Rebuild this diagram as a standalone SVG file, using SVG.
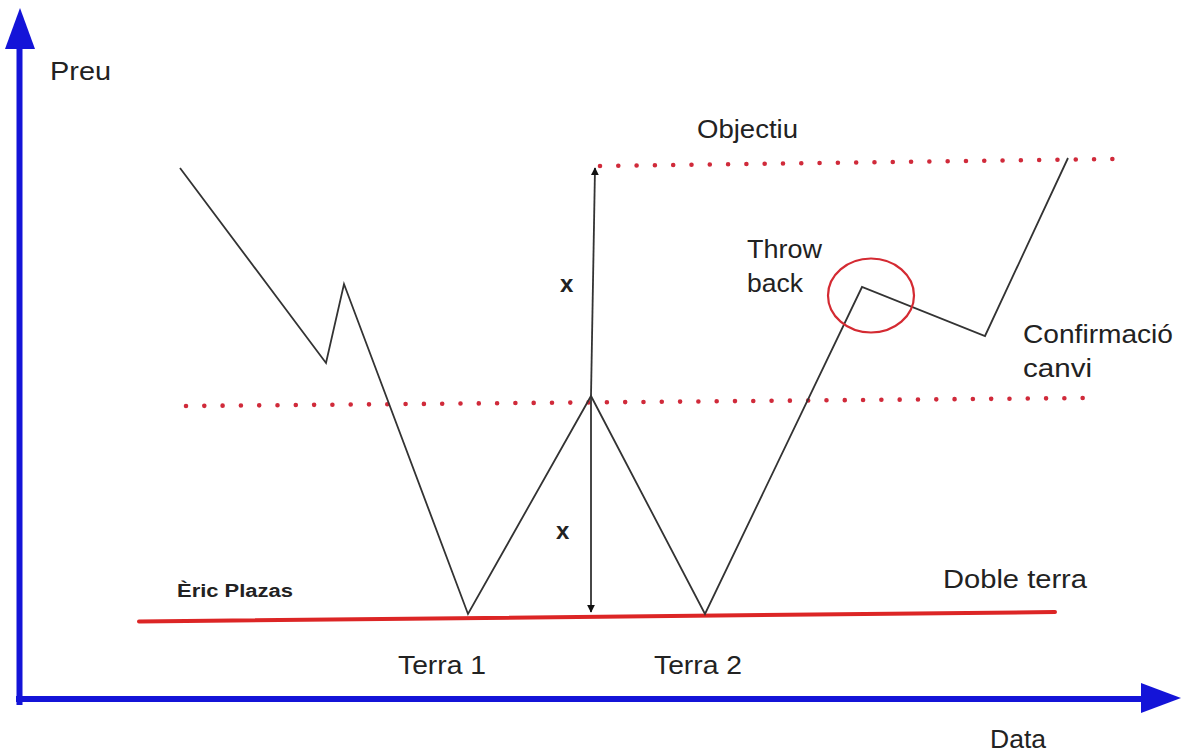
<svg xmlns="http://www.w3.org/2000/svg" width="1182" height="753" viewBox="0 0 1182 753">
<style>
.t{font-family:"Liberation Sans",Arial,sans-serif;font-size:25px;fill:#222}
.b{font-family:"Liberation Sans",Arial,sans-serif;font-weight:bold;fill:#222}
.axis{stroke:#1414d8;stroke-width:6;fill:none}
.ah{fill:#1414d8}
.price{stroke:#333;stroke-width:1.8;fill:none;stroke-linejoin:miter}
.dot{stroke:#d02a3a;stroke-width:4.6;stroke-linecap:round;stroke-dasharray:0 18.3;fill:none}
.meas{stroke:#333;stroke-width:1.8;fill:none}
</style>
<defs>
<marker id="arr" viewBox="0 0 10 10" refX="9" refY="5" markerWidth="8" markerHeight="8" markerUnits="userSpaceOnUse" orient="auto">
<path d="M0,0 L10,5 L0,10 z" fill="#111"/>
</marker>
</defs>
<rect width="1182" height="753" fill="#fff"/>
<g id="axes">
<line class="axis" x1="19.5" y1="705" x2="19.5" y2="46"/>
<polygon class="ah" points="20,8 35,49 5,49"/>
<line class="axis" x1="16" y1="699" x2="1143" y2="699"/>
<polygon class="ah" points="1181,698 1141,683 1141,713"/>
</g>
<g id="levels">
<line x1="139" y1="621.5" x2="1055" y2="612" stroke="#dc2525" stroke-width="4" stroke-linecap="round"/>
<line class="dot" x1="186" y1="406" x2="1086" y2="398"/>
<line class="dot" x1="600" y1="166" x2="1115" y2="159"/>
</g>
<g id="connectors">
<polyline class="price" points="180,168 326,363 344,284 468,614 591,396 705,614 862,287 985,336 1068,158"/>
<line class="meas" x1="591" y1="396" x2="595" y2="168" marker-end="url(#arr)"/>
<line class="meas" x1="591" y1="396" x2="591" y2="612" marker-end="url(#arr)"/>
</g>
<g id="throwback">
<ellipse cx="871" cy="295.5" rx="43" ry="37" fill="none" stroke="#d42a32" stroke-width="2.2"/>
</g>
<g id="labels">
<text class="t" x="50" y="80" textLength="61" lengthAdjust="spacingAndGlyphs">Preu</text>
<text class="t" x="697" y="138" textLength="101" lengthAdjust="spacingAndGlyphs">Objectiu</text>
<text class="t" x="747" y="258" textLength="75" lengthAdjust="spacingAndGlyphs">Throw</text>
<text class="t" x="747" y="292" textLength="56" lengthAdjust="spacingAndGlyphs">back</text>
<text class="t" x="1023" y="343" textLength="150" lengthAdjust="spacingAndGlyphs">Confirmació</text>
<text class="t" x="1023" y="377" textLength="69" lengthAdjust="spacingAndGlyphs">canvi</text>
<text class="t" x="943" y="588" textLength="144" lengthAdjust="spacingAndGlyphs">Doble terra</text>
<text class="t" x="398" y="674" textLength="88" lengthAdjust="spacingAndGlyphs">Terra 1</text>
<text class="t" x="654" y="674" textLength="88" lengthAdjust="spacingAndGlyphs">Terra 2</text>
<text class="t" x="990" y="748" textLength="56" lengthAdjust="spacingAndGlyphs">Data</text>
<text class="b" x="177" y="597" font-size="18" textLength="116" lengthAdjust="spacingAndGlyphs">Èric Plazas</text>
<text class="b" x="560" y="292" font-size="24">x</text>
<text class="b" x="556" y="539" font-size="24">x</text>
</g>
</svg>
